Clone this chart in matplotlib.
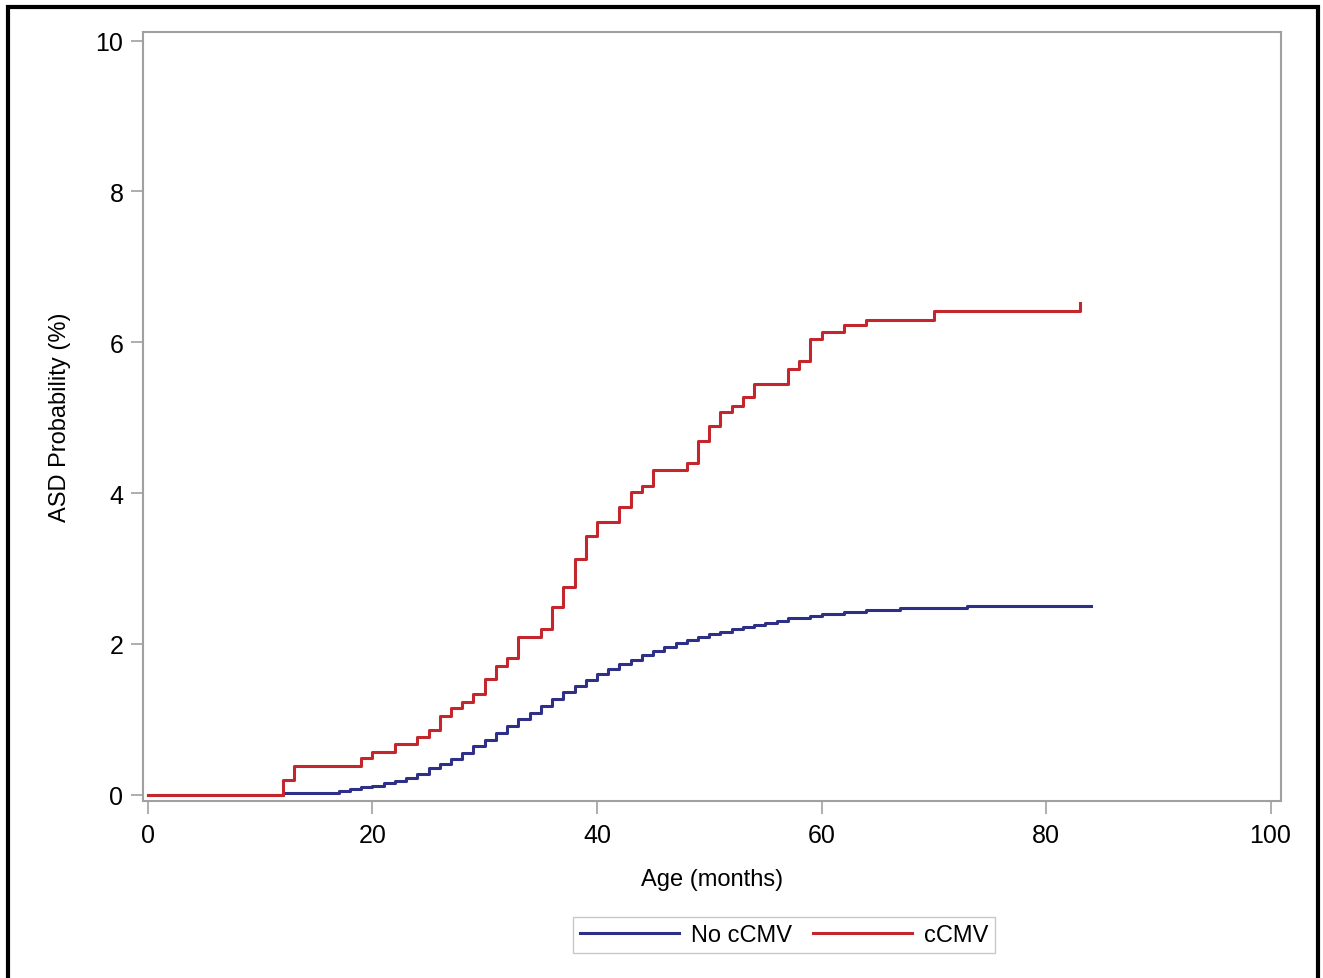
"""Cumulative ASD probability by age, cCMV vs no cCMV (step curves)."""

import matplotlib

matplotlib.use("Agg")
import matplotlib.pyplot as plt
from matplotlib.patches import Rectangle

# step curves: age in months where the curve jumps, value after the jump (%)
ccmv_age = [0, 12, 13, 19, 20, 22, 24, 25, 26, 27, 28, 29, 30, 31, 32, 33, 35, 36,
            37, 38, 39, 40, 42, 43, 44, 45, 48, 49, 50, 51, 52, 53, 54, 57, 58, 59,
            60, 62, 64, 70, 83]
ccmv_prob = [0.0, 0.19, 0.38, 0.49, 0.57, 0.67, 0.76, 0.86, 1.05, 1.15, 1.23, 1.34,
             1.54, 1.71, 1.82, 2.09, 2.20, 2.49, 2.76, 3.13, 3.43, 3.62, 3.81, 4.02,
             4.10, 4.30, 4.40, 4.69, 4.89, 5.08, 5.16, 5.27, 5.44, 5.64, 5.75, 6.04,
             6.13, 6.23, 6.30, 6.41, 6.52]

no_ccmv_age = [0, 12, 17, 18, 19, 20, 21, 22, 23, 24, 25, 26, 27, 28, 29, 30, 31, 32,
               33, 34, 35, 36, 37, 38, 39, 40, 41, 42, 43, 44, 45, 46, 47, 48, 49, 50,
               51, 52, 53, 54, 55, 56, 57, 59, 60, 62, 64, 67, 73, 84]
no_ccmv_prob = [0.0, 0.03, 0.05, 0.07, 0.10, 0.12, 0.15, 0.18, 0.22, 0.27, 0.35, 0.41,
                0.48, 0.56, 0.64, 0.73, 0.82, 0.91, 1.00, 1.09, 1.18, 1.27, 1.36, 1.44,
                1.52, 1.60, 1.67, 1.73, 1.79, 1.85, 1.91, 1.96, 2.01, 2.05, 2.09, 2.13,
                2.16, 2.20, 2.22, 2.25, 2.28, 2.31, 2.34, 2.37, 2.40, 2.43, 2.45, 2.48,
                2.50, 2.50]

x_ticks = [0, 20, 40, 60, 80, 100]
y_ticks = [0, 2, 4, 6, 8, 10]

COLORS = {"no": "#2e2f86", "yes": "#c4262e", "frame": "#a0a0a0"}

plt.rcParams["font.family"] = ["Liberation Sans", "DejaVu Sans"]

fig = plt.figure(figsize=(13.23, 9.79), dpi=100)
ax = fig.add_axes([0.108, 0.181, 0.860, 0.785])

ax.plot(no_ccmv_age, no_ccmv_prob, drawstyle="steps-post", color=COLORS["no"],
        lw=2.2, label="No cCMV")
ax.plot(ccmv_age, ccmv_prob, drawstyle="steps-post", color=COLORS["yes"],
        lw=2.2, label="cCMV")

ax.set_xlim(-0.45, 100.9)
ax.set_ylim(-0.08, 10.11)
ax.set_xticks(x_ticks)
ax.set_yticks(y_ticks)
ax.tick_params(direction="out", length=9, width=1.2, color=COLORS["frame"],
               labelsize=18)
ax.tick_params(axis="x", pad=7)
ax.tick_params(axis="y", pad=5)
for spine in ax.spines.values():
    spine.set_color(COLORS["frame"])
    spine.set_linewidth(1.5)

ax.set_xlabel("Age (months)", fontsize=17, labelpad=15)
ax.set_ylabel("ASD Probability (%)", fontsize=17, labelpad=18)

leg = fig.legend(loc="center", bbox_to_anchor=(784 / 1323, 1 - 936 / 979), ncol=2,
                 handlelength=4.2, handletextpad=0.5, columnspacing=0.9,
                 borderpad=0.3, fancybox=False, framealpha=1, edgecolor="#c8c8c8",
                 prop={"size": 17})
leg.get_frame().set_linewidth(1.0)

# outer black frame around the whole picture
fig.patches.append(Rectangle((8 / 1323, -0.02), 1310 / 1323, 1 - 8 / 979 + 0.02,
                             transform=fig.transFigure, fill=False,
                             edgecolor="black", linewidth=3))

fig.savefig("out.png", dpi=100)
